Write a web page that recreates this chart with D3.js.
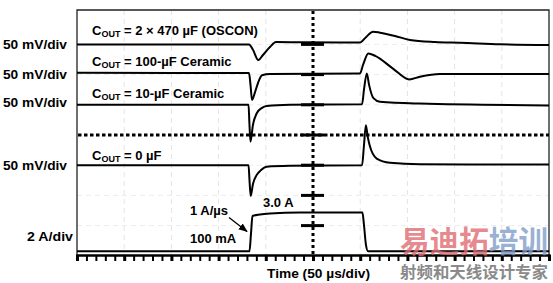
<!DOCTYPE html>
<html><head><meta charset="utf-8">
<script src="https://cdn.jsdelivr.net/npm/d3@7/dist/d3.min.js"></script>
<style>
html,body{margin:0;padding:0;background:#fff;}
svg{display:block;}
text{font-family:"Liberation Sans",Arial,sans-serif;font-weight:bold;fill:#000;}
</style></head>
<body>
<svg id="chart" width="553" height="283"></svg>
<script>
// ---- data (time in µs, voltage deviation in mV, current in A) ----
const traceLabels = ["2 × 470 µF (OSCON)", "100-µF Ceramic", "10-µF Ceramic", "0 µF"];
const scaleLabels = ["50 mV/div", "50 mV/div", "50 mV/div", "50 mV/div", "2 A/div"];
const traceOffsets = [3, 2, 1, -1];          // baseline position, divisions from centre
const mVPerDiv = 50;
const ampsPerDiv = 2;
const currentOffset = -3.9;                  // divisions, level of 0 A
const osconT  = [0, 182.2, 186.4, 192, 197, 204.4, 210.8, 236.2, 299.8, 306.1, 313.6, 321, 336.9, 352.7, 379.2, 405.7, 448, 500];
const osconV  = [0, 0, -9, -26, -17.5, -4.3, 4, 3.5, 3, 12, 21, 19.4, 14, 7.3, 4, 2.8, 0.2, -1];
const cer100T = [0, 182.2, 183.8, 185.4, 188.6, 191.7, 196, 204.4, 299.8, 303, 308.6, 315.9, 334.7, 352, 363.3, 384.5, 500];
const cer100V = [3, 2.5, -17, -42, -29, -14, -1, 1, 2, 16, 35, 31, 10, -8, -3.5, 1, 1];
const cer10T  = [0, 181.7, 182.7, 183.8, 186.4, 190.4, 196, 201, 225.6, 302, 304, 307, 309.4, 314, 321, 363, 500];
const cer10V  = [0, 0, -33, -61, -33, -14, -5, -2, 0, 1, 25, 52, 33, 11, 5, 2, -1];
const cer0T   = [0, 181.7, 182.7, 184, 186.4, 190.4, 195, 201, 225.6, 302, 304, 306, 308, 310, 317.5, 331.6, 363, 500];
const cer0V   = [0, 0, -24, -51, -31, -16, -8, -2.5, -1, 0, 33, 66, 47, 33, 11, 4, 1.5, 1];
const currT   = [0, 182.7, 184.3, 185.9, 193.9, 204.4, 236.2, 302.4, 304, 306.1, 308.3, 500];
const currA   = [0.1, 0.1, 1.25, 2.44, 2.54, 2.6, 2.66, 2.66, 1.84, 0.52, 0.1, 0.1];
const timeLabel = "Time (50 µs/div)";
const levelLabel = "3.0 A";
const slewLabel = "1 A/µs";
const startLabel = "100 mA";

// ---- layout ----
const svg = d3.select("#chart");
const L = 77, R = 549, TOP = 10, AXIS_Y = 255;
const x = d3.scaleLinear().domain([0, 500]).range([L, R]);
const y = d3.scaleLinear().domain([-4, 4]).range([135 + 4 * 30.2, 135 - 4 * 30.2]);

// faint grid
const gridT = d3.range(50, 500, 50).filter(t => t !== 250);
svg.append("g").selectAll("line").data(gridT).join("line")
  .attr("x1", d => x(d)).attr("x2", d => x(d)).attr("y1", TOP).attr("y2", AXIS_Y)
  .attr("stroke", "#e4e4e4").attr("stroke-width", 1).attr("stroke-dasharray", "5,4");
const gridD = [3, 2, 1, -1, -2, -3];
svg.append("g").selectAll("line").data(gridD).join("line")
  .attr("x1", L).attr("x2", R).attr("y1", d => y(d)).attr("y2", d => y(d))
  .attr("stroke", "#ececec").attr("stroke-width", 1).attr("stroke-dasharray", "5,4");

// frame
svg.append("path")
  .attr("d", `M${L},${AXIS_Y}V${TOP}H${R}V${AXIS_Y}`)
  .attr("fill", "none").attr("stroke", "#222").attr("stroke-width", 1.3);

// centre dotted lines
svg.append("line").attr("x1", x(250)).attr("x2", x(250)).attr("y1", TOP + 1).attr("y2", AXIS_Y)
  .attr("stroke", "#000").attr("stroke-width", 3).attr("stroke-dasharray", "3,3");
svg.append("line").attr("x1", L + 1).attr("x2", R).attr("y1", y(0)).attr("y2", y(0))
  .attr("stroke", "#000").attr("stroke-width", 3).attr("stroke-dasharray", "3.5,2.5");

// centre division marks
svg.append("g").selectAll("line").data([3, 2, 1, 0, -1, -2, -3]).join("line")
  .attr("x1", x(250) - 12).attr("x2", x(250) + 11).attr("y1", d => y(d)).attr("y2", d => y(d))
  .attr("stroke", "#000").attr("stroke-width", 3);

// bottom axis
const ax = d3.axisBottom(x).tickValues(d3.range(0, 501, 10)).tickSize(6).tickFormat("");
const axg = svg.append("g").attr("transform", `translate(0,${AXIS_Y})`).call(ax);
axg.select(".domain").attr("stroke", "#000").attr("stroke-width", 2.4);
axg.selectAll(".tick line").attr("stroke", "#000")
  .attr("stroke-width", d => d % 50 === 0 ? 3 : 2);

// traces
const line = d3.line().curve(d3.curveMonotoneX);
const vTraces = [[osconT, osconV], [cer100T, cer100V], [cer10T, cer10V], [cer0T, cer0V]];
vTraces.forEach(([T, V], i) => {
  const pts = T.map((t, k) => [x(t), y(traceOffsets[i] + V[k] / mVPerDiv)]);
  svg.append("path").attr("d", line(pts)).attr("fill", "none")
    .attr("stroke", "#000").attr("stroke-width", 2).attr("stroke-linejoin", "round");
});
const cpts = currT.map((t, k) => [x(t), y(currentOffset + currA[k] / ampsPerDiv)]);
svg.append("path").attr("d", line(cpts)).attr("fill", "none")
  .attr("stroke", "#000").attr("stroke-width", 2).attr("stroke-linejoin", "round");

// left scale labels
const scaleX = [3, 3, 3, 3, 27];
const scaleY = [48.5, 79, 107, 170, 240.5];
const scaleW = [64, 64, 64, 64, 46];
svg.append("g").selectAll("text").data(scaleLabels).join("text")
  .attr("x", (d, i) => scaleX[i]).attr("y", (d, i) => scaleY[i])
  .attr("font-size", 13).attr("textLength", (d, i) => scaleW[i]).attr("lengthAdjust", "spacingAndGlyphs")
  .text(d => d);

// trace labels
const labY = [34.5, 65.5, 97.5, 159.5];
traceLabels.forEach((lab, i) => {
  const t = svg.append("text").attr("x", 92).attr("y", labY[i]).attr("font-size", 13);
  t.append("tspan").text("C");
  t.append("tspan").attr("font-size", 9).attr("dy", 2.5).text("OUT");
  t.append("tspan").attr("dy", -2.5).text(" = " + lab);
});

// annotations
svg.append("text").attr("x", 263).attr("y", 207).attr("font-size", 13).text(levelLabel);
svg.append("text").attr("x", 190).attr("y", 215).attr("font-size", 13).text(slewLabel);
svg.append("text").attr("x", 190).attr("y", 242.5).attr("font-size", 13).text(startLabel);
svg.append("defs").append("marker").attr("id", "ah").attr("viewBox", "0 0 10 10")
  .attr("refX", 9).attr("refY", 5).attr("markerWidth", 7).attr("markerHeight", 7)
  .attr("orient", "auto").append("path").attr("d", "M0,1L10,5L0,9Z").attr("fill", "#000");
svg.append("line").attr("x1", 229).attr("y1", 217.5).attr("x2", 247).attr("y2", 231.5)
  .attr("stroke", "#000").attr("stroke-width", 1.3).attr("marker-end", "url(#ah)");

svg.append("text").attr("x", 267).attr("y", 278).attr("font-size", 13)
  .attr("textLength", 103).attr("lengthAdjust", "spacingAndGlyphs").text(timeLabel);

// watermark
const wm = svg.append("text").attr("x", 400).attr("y", 252).attr("font-size", 30)
  .style("font-family", "'Noto Sans CJK SC',sans-serif").attr("font-weight", "bold")
  .attr("textLength", 148).attr("lengthAdjust", "spacingAndGlyphs");
wm.append("tspan").attr("fill", "#e06a70").attr("fill-opacity", 0.8).text("易迪拓");
wm.append("tspan").attr("fill", "#7f9cc8").attr("fill-opacity", 0.8).text("培训");
svg.append("text").attr("x", 400).attr("y", 278).attr("font-size", 16)
  .style("font-family", "'Noto Sans CJK SC',sans-serif").attr("font-weight", "normal")
  .attr("fill", "#8a8a8a").style("fill", "#8a8a8a")
  .attr("textLength", 148).attr("lengthAdjust", "spacingAndGlyphs").text("射频和天线设计专家");
</script>
</body></html>
